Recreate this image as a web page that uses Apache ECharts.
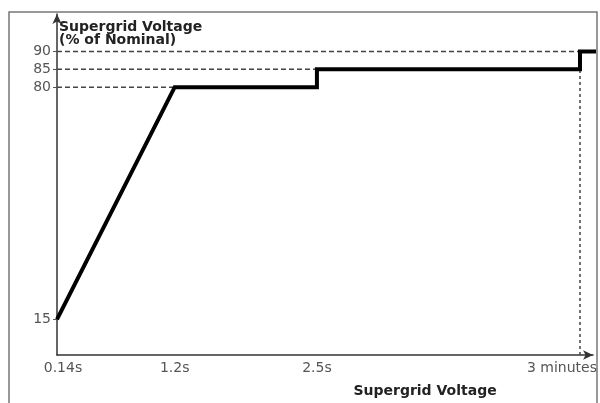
<!DOCTYPE html>
<html><head><meta charset="utf-8">
<script src="https://cdn.jsdelivr.net/npm/echarts@6/dist/echarts.min.js"></script>
<style>html,body{margin:0;padding:0;background:#fff}#c{width:600px;height:403px}</style>
</head><body><div id="c"></div>
<script>
const xTickPos = [0, 22.5, 49.7, 100];
const xTickLabels = ['0.14s', '1.2s', '2.5s', '3 minutes'];
const yTickValues = [15, 80, 85, 90];
const curveX = [0, 22.5, 49.7, 49.7, 100, 100, 103.5];
const curveY = [15, 80, 80, 85, 85, 90, 90];
const guide80 = [[0, 80], [22.5, 80]];
const guide85 = [[0, 85], [49.7, 85]];
const guide90 = [[0, 90], [100, 90]];
const guideV = [[100, 5], [100, 90]];

const FONT = 'DejaVu Sans, Liberation Sans, Arial';
const chart = echarts.init(document.getElementById('c'));
const guideSeries = [guide80, guide85, guide90, guideV].map((d, i) => ({
  type: 'line', data: d, symbol: 'none', silent: true, z: 1,
  lineStyle: {color: '#444', width: 1.5, type: i === 3 ? [3, 3] : [5, 3]}
}));
chart.setOption({
  animation: false,
  grid: {left: 57, right: 5, top: 14, bottom: 44},
  graphic: [{type: 'rect', shape: {x: 9, y: 12, width: 588, height: 400},
    style: {fill: 'none', stroke: '#777', lineWidth: 1.5}, silent: true}],
  xAxis: {
    type: 'value', min: 0, max: 102.5,
    splitLine: {show: false},
    axisLine: {lineStyle: {color: '#333', width: 1.5}, symbol: ['none', 'arrow'], symbolSize: [7, 10]},
    axisTick: {show: false},
    axisLabel: {
      customValues: xTickPos, color: '#555', fontSize: 14, fontFamily: FONT, margin: 6,
      formatter: v => {
        const i = xTickPos.indexOf(v);
        if (i === 0) return '{a|' + xTickLabels[i] + '}';
        if (i === 3) return '{b|' + xTickLabels[i] + '}';
        return xTickLabels[i];
      },
      rich: {
        a: {color: '#555', fontSize: 14, fontFamily: FONT, padding: [0, 0, 0, 12]},
        b: {color: '#555', fontSize: 14, fontFamily: FONT, padding: [0, 36, 0, 0]}
      }
    },
    name: 'Supergrid Voltage', nameLocation: 'middle', nameGap: 29,
    nameTextStyle: {color: '#222', fontWeight: 'bold', fontSize: 14, fontFamily: FONT, padding: [0, 0, 0, 200]}
  },
  yAxis: {
    type: 'value', min: 5, max: 100.5,
    splitLine: {show: false},
    axisLine: {lineStyle: {color: '#333', width: 1.5}, symbol: ['none', 'arrow'], symbolSize: [7, 10]},
    axisTick: {customValues: yTickValues, length: 4, lineStyle: {color: '#555'}},
    axisLabel: {customValues: yTickValues, color: '#555', fontSize: 14, fontFamily: FONT, margin: 6},
    name: 'Supergrid Voltage\n(% of Nominal)', nameLocation: 'end', nameGap: -33,
    nameTextStyle: {color: '#222', fontWeight: 'bold', fontSize: 14, lineHeight: 13, fontFamily: FONT, align: 'left', padding: [0, 0, 0, 2]}
  },
  series: guideSeries.concat([{
    type: 'line', data: curveX.map((x, i) => [x, curveY[i]]), symbol: 'none', clip: false,
    lineStyle: {color: '#000', width: 4, join: 'miter'}, z: 3
  }])
});
</script></body></html>
